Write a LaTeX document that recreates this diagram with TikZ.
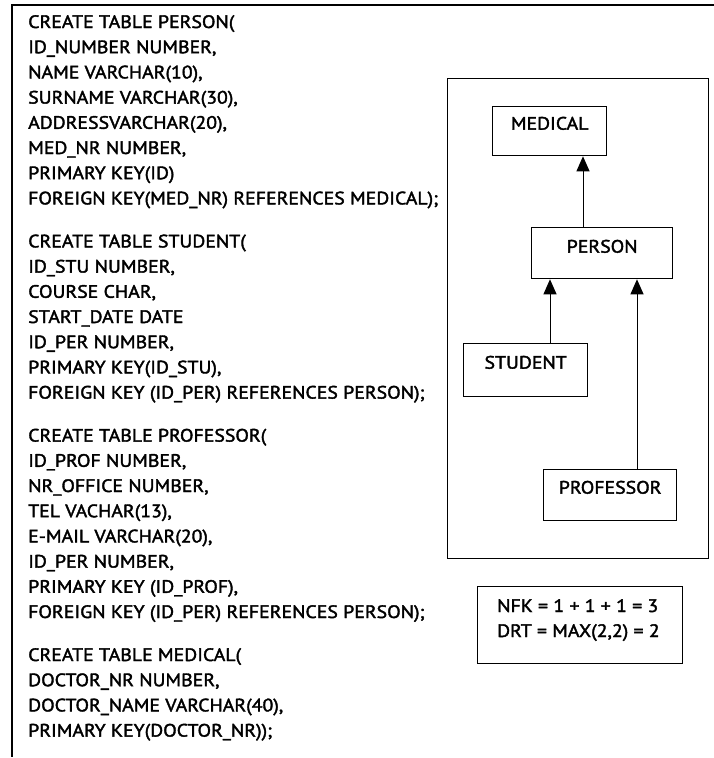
\documentclass[tikz,border=0pt]{standalone}
\usepackage{fontspec}
\setmainfont{PT Sans}[FakeBold=2,FakeStretch=1.1]
\usetikzlibrary{arrows.meta}
\begin{document}
\begin{tikzpicture}[x=1pt,y=-1pt,
  every node/.style={font=\fontsize{18}{20}\selectfont},
  code/.style={anchor=base west,inner sep=0pt},
  entity/.style={draw,line width=1.3pt,anchor=north west,inner xsep=0pt,inner ysep=0pt,
    text height=23pt,text depth=26pt,align=center},
  frame/.style={draw,line width=1.3pt,anchor=north west,inner sep=0pt},
  link/.style={line width=1pt,-{Triangle[width=13pt,length=15pt]}}
]
\useasboundingbox (0,0) rectangle (714,758);
% outer frame (top and left)
\coordinate (ftr) at (714,5);
\coordinate (ftl) at (12,5);
\coordinate (fbl) at (12,757);
\draw[line width=1.4pt] (ftr) -- (ftl) -- (fbl);

% SQL text
\node[code] (l1) at (28,28.0) {CREATE TABLE PERSON(};
\node[code] (l2) at (28,53.2) {ID\_NUMBER NUMBER,};
\node[code] (l3) at (28,78.4) {NAME VARCHAR(10),};
\node[code] (l4) at (28,103.6) {SURNAME VARCHAR(30),};
\node[code] (l5) at (28,128.8) {ADDRESSVARCHAR(20),};
\node[code] (l6) at (28,154.0) {MED\_NR NUMBER,};
\node[code] (l7) at (28,179.2) {PRIMARY KEY(ID)};
\node[code] (l8) at (28,204.4) {FOREIGN KEY(MED\_NR) REFERENCES MEDICAL);};

\node[code] (s1) at (28,247.4) {CREATE TABLE STUDENT(};
\node[code] (s2) at (28,272.6) {ID\_STU NUMBER,};
\node[code] (s3) at (28,297.8) {COURSE CHAR,};
\node[code] (s4) at (28,323.0) {START\_DATE DATE};
\node[code] (s5) at (28,348.2) {ID\_PER NUMBER,};
\node[code] (s6) at (28,373.4) {PRIMARY KEY(ID\_STU),};
\node[code] (s7) at (28,398.6) {FOREIGN KEY (ID\_PER) REFERENCES PERSON);};

\node[code] (p1) at (28,441.6) {CREATE TABLE PROFESSOR(};
\node[code] (p2) at (28,466.8) {ID\_PROF NUMBER,};
\node[code] (p3) at (28,492.0) {NR\_OFFICE NUMBER,};
\node[code] (p4) at (28,517.2) {TEL VACHAR(13),};
\node[code] (p5) at (28,542.4) {E-MAIL VARCHAR(20),};
\node[code] (p6) at (28,567.6) {ID\_PER NUMBER,};
\node[code] (p7) at (28,592.8) {PRIMARY KEY (ID\_PROF),};
\node[code] (p8) at (28,618.0) {FOREIGN KEY (ID\_PER) REFERENCES PERSON);};

\node[code] (m1) at (28,661.0) {CREATE TABLE MEDICAL(};
\node[code] (m2) at (28,686.2) {DOCTOR\_NR NUMBER,};
\node[code] (m3) at (28,711.4) {DOCTOR\_NAME VARCHAR(40),};
\node[code] (m4) at (28,736.6) {PRIMARY KEY(DOCTOR\_NR));};

% diagram frame
\node[frame,minimum width=261pt,minimum height=480pt] (diag) at (447,78) {};

% entities
\node[entity,minimum width=114pt] (medical) at (492,106) {MEDICAL};
\node[entity,minimum width=141pt,text height=25pt] (person) at (531,227) {PERSON};
\node[entity,minimum width=124pt,text height=25pt,text depth=28pt] (student) at (463,343) {STUDENT};
\node[entity,minimum width=133pt,text height=24pt,text depth=27pt] (professor) at (543,469) {PROFESSOR};

% links
\draw[link] (person.north -| 583,0) -- (medical.south -| 583,0);
\draw[link] (student.north -| 550,0) -- (person.south -| 550,0);
\draw[link] (professor.north -| 637,0) -- (person.south -| 637,0);

% metrics box
\node[frame,minimum width=205pt,minimum height=77pt] (metrics) at (477,586) {};
\node[code] (nfk) at (497,612) {NFK = 1 + 1 + 1 = 3};
\node[code] (drt) at (497,637) {DRT = MAX(2,2) = 2};
\end{tikzpicture}
\end{document}
